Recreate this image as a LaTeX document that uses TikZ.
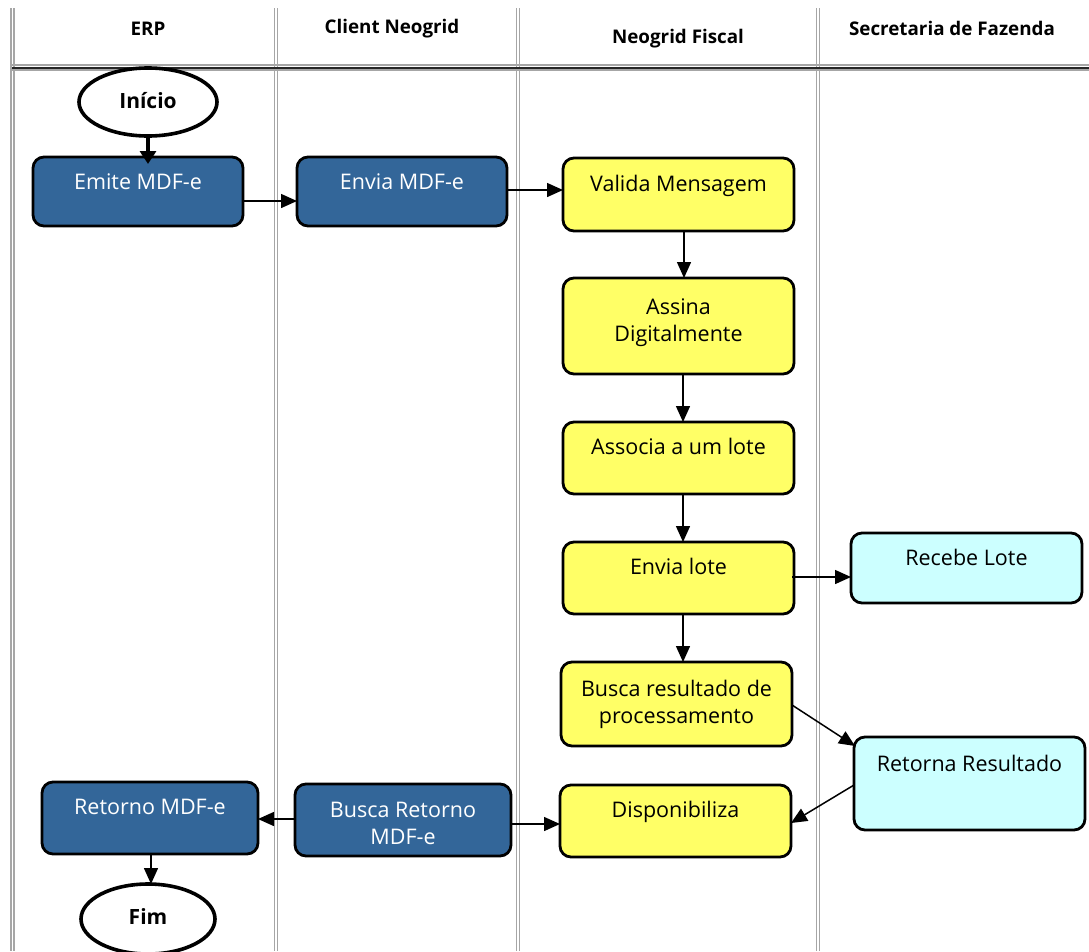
\documentclass[tikz,border=0pt]{standalone}
\usepackage{fontspec}
\setmainfont{Open Sans}
\usetikzlibrary{shapes.geometric,arrows.meta}
\newcommand{\lbl}[2]{\raisebox{-1pt}{\raisebox{#1}[0pt][0pt]{\begin{tabular}{@{}c@{}}#2\end{tabular}}}}
\tikzset{
  x=1pt,y=-1pt,
  lane/.style={draw=black!35,line width=1.6pt},
  lanedark/.style={draw=black!85,line width=1.6pt},
  head/.style={font=\fontsize{18.8}{22}\selectfont\bfseries,inner sep=0pt,text=black},
  flowbox/.style={draw=black,line width=2.8pt,rounded corners=11pt,inner sep=0pt,outer sep=0pt,font=\fontsize{21.5}{27.5}\selectfont,anchor=north west},
  bluebox/.style={flowbox,fill=boxblue,text=white},
  yellowbox/.style={flowbox,fill=boxyellow,text=black},
  cyanbox/.style={flowbox,fill=boxcyan,text=black},
  term/.style={ellipse,draw=black,line width=3.6pt,fill=white,inner sep=0pt,outer sep=0pt,font=\fontsize{21}{24}\selectfont\bfseries},
  flow/.style={draw=black,line width=1.5pt,-{Triangle[length=16pt,width=14pt]}},
  flowthick/.style={draw=black,line width=3.4pt,-{Triangle[length=13pt,width=16pt]}}
}
\definecolor{boxblue}{HTML}{336699}
\definecolor{boxyellow}{HTML}{FFFF66}
\definecolor{boxcyan}{HTML}{CCFFFF}
\begin{document}
\begin{tikzpicture}
\useasboundingbox (0,0) rectangle (1089,951);
\begin{scope}
\clip (0,0) rectangle (1089,951);
% swimlanes
\foreach \lx in {11,274.5,516.5,816.5}{
  \draw[lane] (\lx,8) -- (\lx,951);
  \draw[lane] (\lx+3,8) -- (\lx+3,951);
}
\draw[lane] (10,65) -- (1089,65);
\draw[lanedark] (12,68) -- (1089,68);
\draw[lane] (12,70) -- (1089,70);
\node[head] (h1) at (148,29) {ERP};
\node[head] (h2) at (392,29) {Client Neogrid};
\node[head] (h3) at (678,39) {Neogrid Fiscal};
\node[head] (h4) at (952,28) {Secretaria de Fazenda};
% boxes
\node[term,minimum width=138pt,minimum height=68pt] (ini) at (148,102) {\lbl{-6pt}{Início}};
\node[term,minimum width=134pt,minimum height=70pt] (fim) at (148,919) {\lbl{-5pt}{Fim}};
\node[bluebox,minimum width=210pt,minimum height=69pt] (emite) at (33,157) {\lbl{2.5pt}{Emite MDF-e}};
\node[bluebox,minimum width=210pt,minimum height=69pt] (envia) at (297,157) {\lbl{2.5pt}{Envia MDF-e}};
\node[yellowbox,minimum width=231pt,minimum height=73pt] (valida) at (563,158) {\lbl{4pt}{Valida Mensagem}};
\node[yellowbox,minimum width=231pt,minimum height=96pt] (assina) at (563,278) {\lbl{-1pt}{Assina\\Digitalmente}};
\node[yellowbox,minimum width=231pt,minimum height=72pt] (associa) at (563,422) {\lbl{4pt}{Associa a um lote}};
\node[yellowbox,minimum width=231pt,minimum height=72pt] (lote) at (563,542) {\lbl{4pt}{Envia lote}};
\node[yellowbox,minimum width=231pt,minimum height=84pt] (busca) at (561,662) {\lbl{-5pt}{Busca resultado de\\processamento}};
\node[yellowbox,minimum width=231pt,minimum height=72pt] (disp) at (560,785) {\lbl{4pt}{Disponibiliza}};
\node[cyanbox,minimum width=231pt,minimum height=70pt] (recebe) at (851,533) {\lbl{3pt}{Recebe Lote}};
\node[cyanbox,minimum width=231pt,minimum height=93pt] (retorna) at (854,737) {\lbl{13pt}{Retorna Resultado}};
\node[bluebox,minimum width=216pt,minimum height=72pt] (retorno) at (42,782) {\lbl{4pt}{Retorno MDF-e}};
\node[bluebox,minimum width=216pt,minimum height=72pt] (bret) at (295,784) {\lbl{-10pt}{Busca Retorno\\MDF-e}};
% connectors
\draw[flowthick] (ini.south) -- ([yshift=-7pt]ini.south |- emite.north);
\draw[flow] ([yshift=-9.5pt]emite.east) -- ([yshift=-9.5pt]envia.west);
\draw[flow] ([yshift=1.5pt]envia.east) -- ([yshift=1.5pt]envia.east -| valida.west);
\draw[flow] ([xshift=5.5pt]valida.south) -- ([xshift=5.5pt]valida.south |- assina.north);
\draw[flow] ([xshift=4.5pt]assina.south) -- ([xshift=4.5pt]assina.south |- associa.north);
\draw[flow] ([xshift=4.5pt]associa.south) -- ([xshift=4.5pt]associa.south |- lote.north);
\draw[flow] ([xshift=4.5pt]lote.south) -- ([xshift=4.5pt]lote.south |- busca.north);
\draw[flow] ([xshift=-2pt,yshift=1pt]lote.east) -- ([yshift=1pt]lote.east -| recebe.west);
\draw[flow] ([yshift=-1pt]busca.east) -- ([xshift=1pt,yshift=-9pt]retorna.north west);
\draw[flow] ([yshift=-1.5pt]retorna.west) -- ([yshift=-2pt]disp.east);
\draw[flow] ([yshift=-4pt]bret.east) -- ([yshift=-4pt]bret.east -| disp.west);
\draw[flow] ([yshift=1pt]bret.west) -- ([yshift=1pt]bret.west -| retorno.east);
\draw[flow] ([xshift=1pt]retorno.south) -- ([xshift=1pt]retorno.south |- fim.north);
\end{scope}
\end{tikzpicture}
\end{document}
